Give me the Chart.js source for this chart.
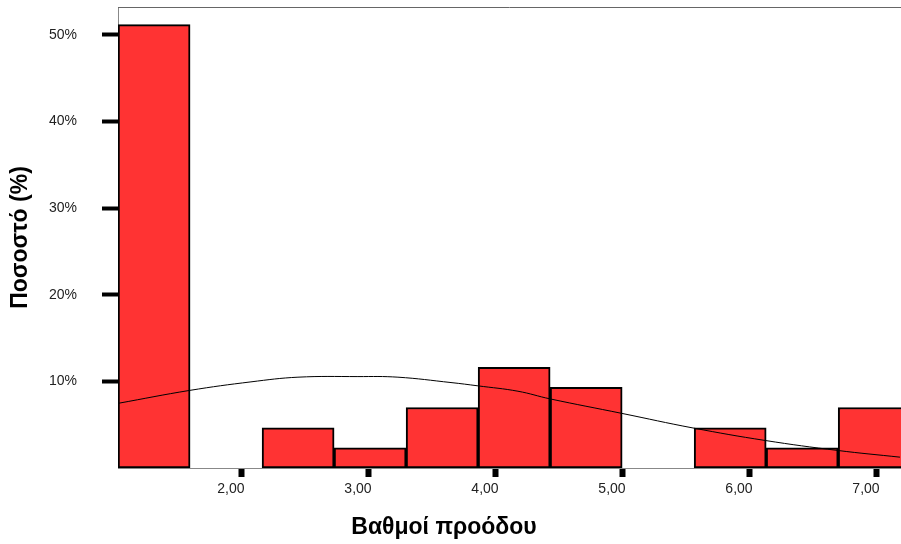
<!DOCTYPE html>
<html>
<head>
<meta charset="utf-8">
<script src="https://cdn.jsdelivr.net/npm/chart.js@4/dist/chart.umd.min.js"></script>
<style>
  body { margin: 0; background: #fff; }
  #wrap { width: 901px; height: 544px; position: relative; }
</style>
</head>
<body>
<div id="wrap"><canvas id="histChart"></canvas></div>
<script>
// Κέντρα κλάσεων ιστογράμματος (βαθμοί) και ποσοστά (N = 43)
const binCenters = [1.308, 1.875, 2.442, 3.009, 3.576, 4.143, 4.710, 5.277, 5.844, 6.411, 6.978];
const binPercents = [51.16, null, 4.65, 2.33, 6.98, 11.63, 9.30, null, 4.65, 2.33, 6.98];

// Καμπύλη κανονικής κατανομής (σημεία)
const curveX = [1.024, 1.591, 2.071, 2.441, 2.913, 3.228, 3.646, 3.858, 4.173, 4.425, 4.992, 5.551, 6.118, 6.693, 7.181];
const curveY = [7.46, 8.96, 9.94, 10.48, 10.55, 10.48, 9.86, 9.48, 8.86, 7.98, 6.30, 4.62, 3.18, 2.02, 1.25];

const xTicks = [2, 3, 4, 5, 6, 7];
const yTicks = [10, 20, 30, 40, 50];

const xTitle = 'Βαθμοί προόδου';
const yTitle = 'Ποσοστό (%)';

const FONT = '"Liberation Sans", Arial, sans-serif';

// Πάνω περίγραμμα και τίτλος άξονα x
const framePlugin = {
  id: 'frame',
  afterDraw(chart) {
    const { ctx, chartArea } = chart;
    ctx.save();
    ctx.strokeStyle = '#666';
    ctx.lineWidth = 1;
    ctx.beginPath();
    ctx.moveTo(chartArea.left, chartArea.top + 0.5);
    ctx.lineTo(chartArea.right, chartArea.top + 0.5);
    ctx.stroke();
    ctx.font = 'bold 23px ' + FONT;
    ctx.fillStyle = '#000';
    ctx.textAlign = 'center';
    ctx.textBaseline = 'middle';
    ctx.fillText(xTitle, chartArea.left + 326, 528);
    ctx.restore();
  }
};

const ctx = document.getElementById('histChart');

new Chart(ctx, {
  type: 'bar',
  data: {
    datasets: [
      {
        type: 'line',
        data: curveX.map((x, i) => ({ x: x, y: curveY[i] })),
        borderColor: '#000',
        borderWidth: 1,
        pointRadius: 0,
        tension: 0.4,
        fill: false,
        order: 0
      },
      {
        data: binCenters.map((x, i) => ({ x: x, y: binPercents[i] })),
        backgroundColor: '#ff3333',
        borderColor: '#000',
        borderWidth: 2,
        borderSkipped: false,
        barPercentage: 1,
        categoryPercentage: 1,
        order: 1
      }
    ]
  },
  options: {
    responsive: true,
    maintainAspectRatio: false,
    animation: false,
    layout: {
      padding: { top: 7, right: 0, left: 0, bottom: 0 }
    },
    plugins: {
      legend: { display: false },
      tooltip: { enabled: false }
    },
    scales: {
      x: {
        type: 'linear',
        min: 1.024,
        max: 7.189,
        offset: false,
        afterFit: function(scale) {
          scale.height = 76;
          scale.paddingLeft = 0;
          scale.paddingRight = 0;
        },
        afterBuildTicks: function(scale) {
          scale.ticks = xTicks.map(v => ({ value: v }));
        },
        ticks: {
          padding: 4,
          labelOffset: -11,
          maxRotation: 0,
          color: '#222',
          font: { family: FONT, size: 14 },
          callback: function(value) {
            return value.toFixed(2).replace('.', ',');
          }
        },
        grid: {
          offset: false,
          drawOnChartArea: false,
          drawTicks: true,
          tickLength: 9,
          tickWidth: 6,
          tickColor: '#000'
        },
        border: { display: true, color: '#888', width: 1 }
      },
      y: {
        min: 0,
        max: 53.2,
        afterFit: function(scale) {
          scale.width = 118;
          scale.paddingTop = 0;
          scale.paddingBottom = 0;
        },
        afterBuildTicks: function(scale) {
          scale.ticks = yTicks.map(v => ({ value: v }));
        },
        ticks: {
          padding: 25,
          color: '#222',
          font: { family: FONT, size: 14 },
          callback: function(value) { return value + '%'; }
        },
        grid: {
          drawOnChartArea: false,
          drawTicks: true,
          tickLength: 16,
          tickWidth: 4,
          tickColor: '#000'
        },
        border: { display: true, color: '#888', width: 1 },
        title: {
          display: true,
          text: yTitle,
          color: '#000',
          padding: { top: 7, bottom: 0 },
          font: { family: FONT, size: 23, weight: 'bold' }
        }
      }
    }
  },
  plugins: [framePlugin]
});
</script>
</body>
</html>
